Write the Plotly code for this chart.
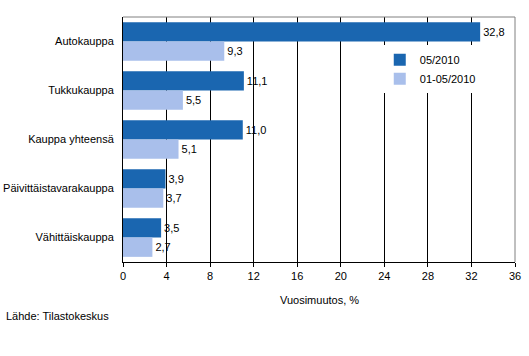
import plotly.graph_objects as go

categories = ["Autokauppa", "Tukkukauppa", "Kauppa yhteensä", "Päivittäistavarakauppa", "Vähittäiskauppa"]
series_names = ["05/2010", "01-05/2010"]
values_0510 = [32.8, 11.1, 11.0, 3.9, 3.5]
values_0105 = [9.3, 5.5, 5.1, 3.7, 2.7]
x_ticks = [0, 4, 8, 12, 16, 20, 24, 28, 32, 36]

FONT = "Liberation Sans, Arial, sans-serif"
colors = ["#1a66b0", "#a9bfeb"]

fig = go.Figure()
for name, vals, col in zip(series_names, [values_0510, values_0105], colors):
    fig.add_trace(go.Bar(
        y=categories, x=vals, name=name, orientation="h",
        marker=dict(color=col, line=dict(width=0)),
        text=[f"{v:.1f}".replace(".", ",") for v in vals],
        textposition="outside", cliponaxis=False,
        textfont=dict(family=FONT, size=11, color="black"),
    ))

fig.update_layout(
    width=529, height=356,
    margin=dict(l=123, r=14, t=17, b=94),
    paper_bgcolor="white", plot_bgcolor="white",
    barmode="group", bargap=0.21, bargroupgap=0,
    font=dict(family=FONT, size=11, color="black"),
    showlegend=True,
    legend=dict(x=0.655, y=0.885, xanchor="left", yanchor="top",
                bgcolor="white", font=dict(size=11, family=FONT),
                itemwidth=30, tracegroupgap=0),
    xaxis=dict(range=[0, 36], tickvals=x_ticks, showgrid=True, gridcolor="black", gridwidth=1,
               showline=True, linecolor="black", linewidth=1, ticks="outside", ticklen=4,
               tickcolor="black", zeroline=False, automargin=False,
               tickfont=dict(size=11, family=FONT)),
    yaxis=dict(autorange="reversed", showline=True, linecolor="black", linewidth=1,
               ticks="", ticklen=0, automargin=False, ticklabelstandoff=6,
               tickfont=dict(size=11, family=FONT)),
    annotations=[
        dict(text="Vuosimuutos, %", xref="paper", yref="paper", x=0.5, y=(262 - 300) / 245,
             xanchor="center", yanchor="middle", showarrow=False, font=dict(size=11, family=FONT)),
        dict(text="Lähde: Tilastokeskus", xref="paper", yref="paper", x=(4 - 123) / 392,
             y=(262 - 316) / 245, xanchor="left", yanchor="middle", showarrow=False,
             font=dict(size=11, family=FONT)),
    ],
    shapes=[
        dict(type="line", xref="paper", yref="paper", x0=0, x1=1, y0=1, y1=1,
             line=dict(color="#808080", width=1)),
        dict(type="line", xref="paper", yref="paper", x0=1, x1=1, y0=0, y1=1,
             line=dict(color="#808080", width=1)),
    ],
)

fig.write_html("out.html", config={"displayModeBar": False},
               post_script="document.body.style.margin='0';")
